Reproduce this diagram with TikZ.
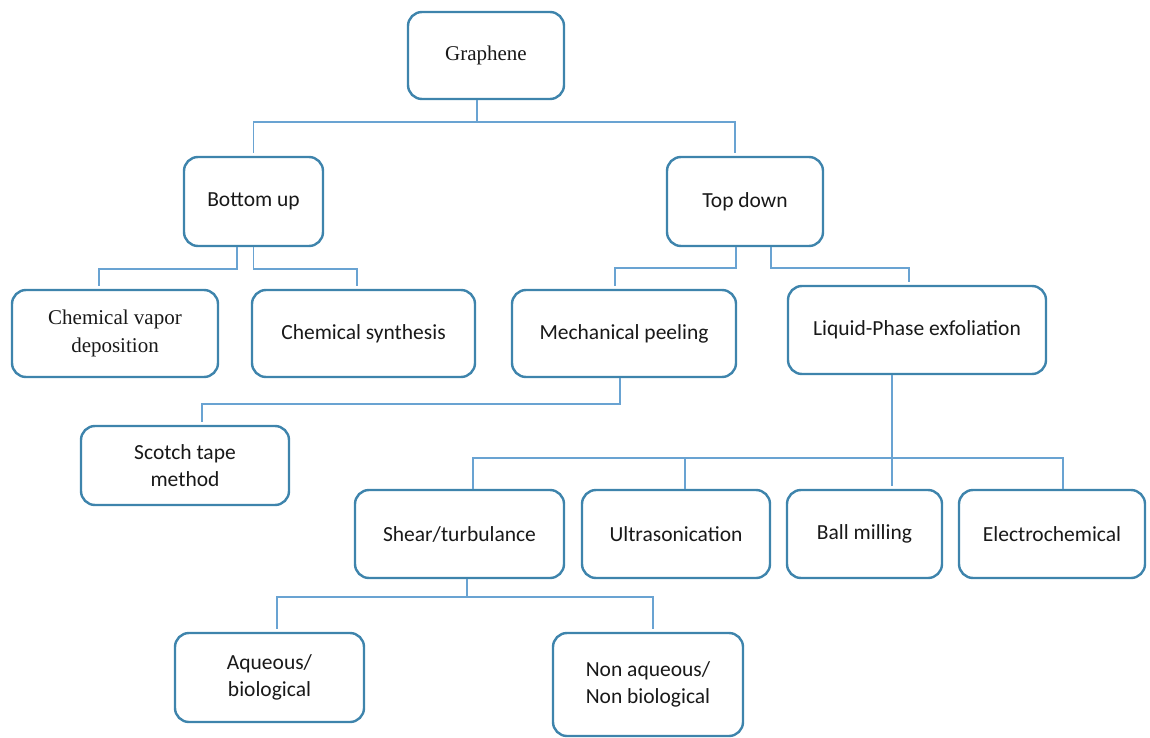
\documentclass[tikz,border=0pt]{standalone}
\usepackage{fontspec}
\newfontfamily\calfont{Carlito}
\newfontfamily\timesfont{Liberation Serif}
\definecolor{boxblue}{RGB}{62,132,172}
\definecolor{lineblue}{RGB}{105,163,210}
\tikzset{
  box/.style={draw=boxblue, line width=2.4pt, rounded corners=14pt, fill=white,
    align=center, inner sep=0pt, text=black!90,
    font=\calfont\fontsize{21.5}{27}\selectfont},
  serifbox/.style={box, font=\timesfont\fontsize{21}{28}\selectfont},
  conn/.style={draw=lineblue, line width=1.9pt, shorten >=3pt}
}
\begin{document}
\begin{tikzpicture}[x=1pt, y=-1pt]
\useasboundingbox (0,0) rectangle (1150,738);
% nodes
\node[serifbox, minimum width=156pt, minimum height=87pt] (g) at (486,55.5) {Graphene};
\node[box, minimum width=139pt, minimum height=89pt] (bu) at (253.5,201.5) {Bottom up};
\node[box, minimum width=156pt, minimum height=89pt] (td) at (745,201.5) {Top down};
\node[serifbox, minimum width=206pt, minimum height=87pt] (cvd) at (115,333.5) {Chemical vapor\\deposition};
\node[box, minimum width=223pt, minimum height=87pt] (cs) at (363.5,333.5) {Chemical synthesis};
\node[box, minimum width=224pt, minimum height=87pt] (mp) at (624,333.5) {Mechanical peeling};
\node[box, minimum width=258pt, minimum height=88pt] (lpe) at (917,330) {Liquid-Phase exfoliation};
\node[box, minimum width=208pt, minimum height=79pt] (st) at (185,465.5) {Scotch tape\\method};
\node[box, minimum width=209pt, minimum height=88pt] (sh) at (459.5,534) {Shear/turbulance};
\node[box, minimum width=188pt, minimum height=88pt] (us) at (676,534) {Ultrasonication};
\node[box, minimum width=155pt, minimum height=88pt] (bm) at (864.5,534) {Ball milling};
\node[box, minimum width=186pt, minimum height=88pt] (ec) at (1052,534) {Electrochemical};
\node[box, minimum width=189pt, minimum height=89pt] (aq) at (269.5,677.5) {Aqueous/\\biological};
\node[box, minimum width=190pt, minimum height=103pt] (na) at (648,684.5) {Non aqueous/\\Non biological};
% connectors
\draw[conn] ([xshift=-9pt]g.south) -- ++(0,22) -| (bu.north);
\draw[conn] ([xshift=-9pt]g.south) -- ++(0,22) -| ([xshift=-10pt]td.north);
\draw[conn] ([xshift=-16.5pt]bu.south) -- ++(0,22) -| ([xshift=-16pt]cvd.north);
\draw[conn] (bu.south) -- ++(0,22) -| ([xshift=-6.5pt]cs.north);
\draw[conn] ([xshift=-9pt]td.south) -- ++(0,21) -| ([xshift=-9pt]mp.north);
\draw[conn] ([xshift=26pt]td.south) -- ++(0,21) -| ([xshift=-8pt]lpe.north);
\draw[conn] ([xshift=-4pt]mp.south) -- ++(0,26) -| ([xshift=17pt]st.north);
\draw[conn] ([xshift=-25pt]lpe.south) -- ([xshift=27.5pt]bm.north);
\draw[conn, shorten >=0pt] ([xshift=13.5pt]sh.north) -- ++(0,-31) -| ([xshift=11pt]ec.north);
\draw[conn, shorten >=0pt] ([xshift=9pt]us.north) -- ++(0,-31);
\draw[conn] ([xshift=7.5pt]sh.south) -- ++(0,18) -| ([xshift=7.5pt]aq.north);
\draw[conn] ([xshift=7.5pt]sh.south) -- ++(0,18) -| ([xshift=5pt]na.north);
\end{tikzpicture}
\end{document}
